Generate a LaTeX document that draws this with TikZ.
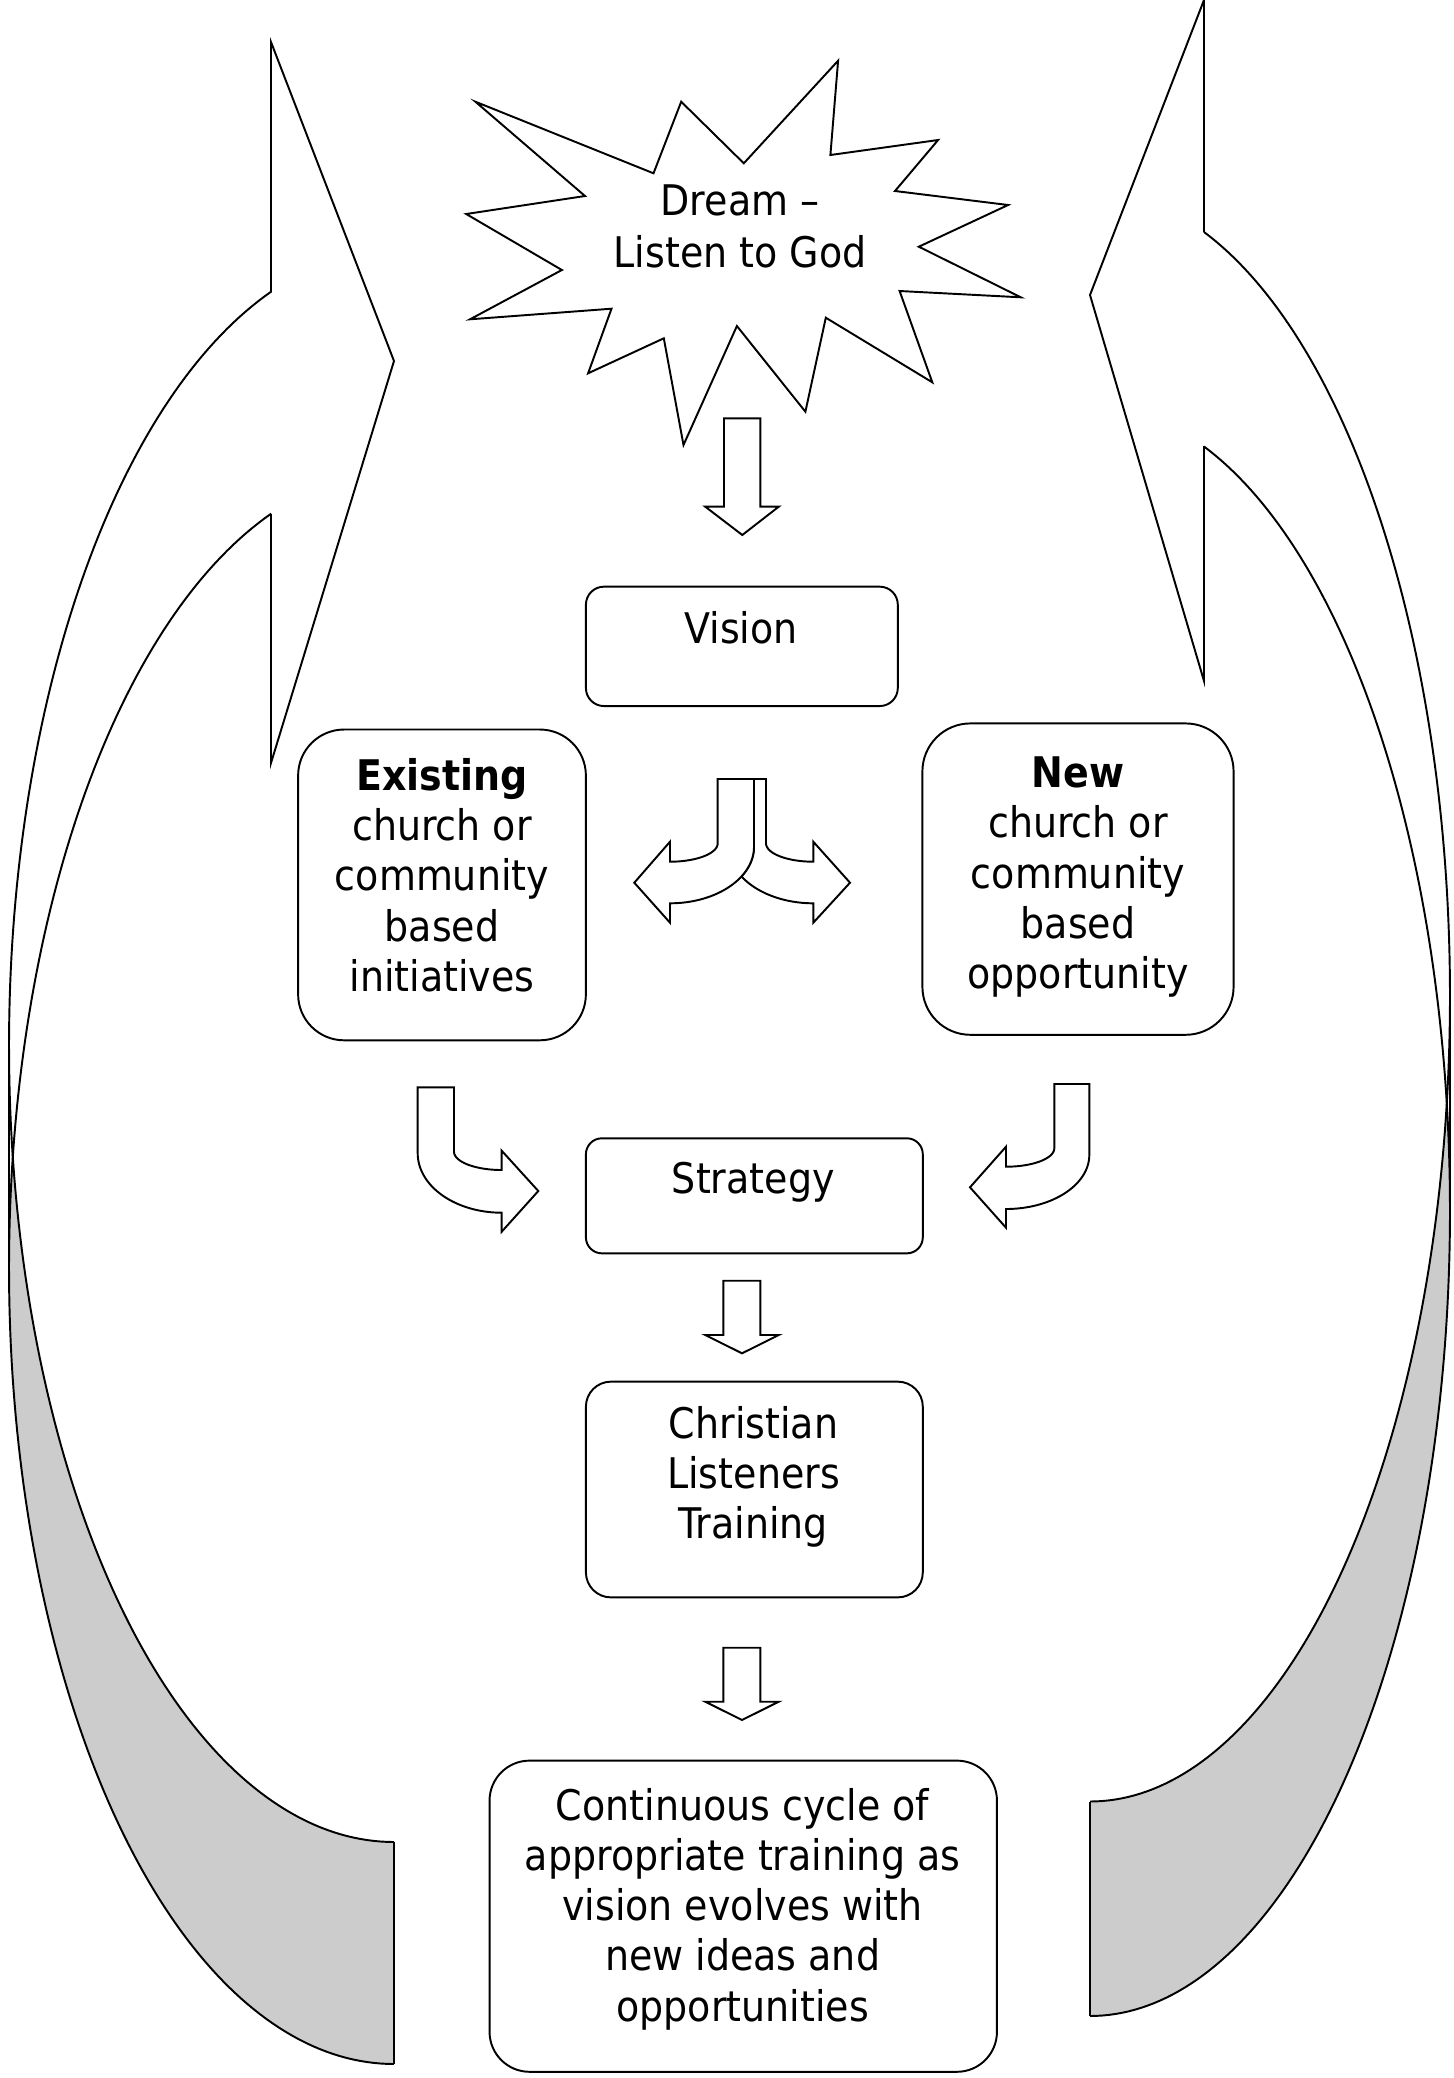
\documentclass[tikz,border=0pt]{standalone}
\usepackage{fontspec}
\setmainfont{DejaVu Sans Condensed}
\definecolor{backgray}{HTML}{CCCCCC}
\begin{document}
\begin{tikzpicture}[x=0.01cm,y=-0.01cm,line width=0.55pt,line join=miter,
  box/.style={draw,fill=white,inner sep=0pt},
  txt/.style={font=\fontsize{12pt}{14.3pt}\selectfont,align=center,inner sep=0pt},
  blk/.style={draw,fill=white},
  backband/.style={fill=backgray}]
\fill[white] (0,0) rectangle (1454,2078);
\useasboundingbox (0,0) rectangle (1454,2078);

% ---------- left curved arrow ----------
\path[backband] plot[domain=172:90,samples=80] ({394+385*cos(\x)},{1046+796*sin(\x)})
  -- plot[domain=90:188,samples=80] ({394+385*cos(\x)},{1268+796*sin(\x)}) -- cycle;
\path[fill=white] plot[domain=180:251.4,samples=80] ({394+385*cos(\x)},{1046+796*sin(\x)})
  -- (271,42) -- (394,361) -- (271,763)
  -- plot[domain=251.4:180,samples=80] ({394+385*cos(\x)},{1268+796*sin(\x)}) -- cycle;
\draw plot[domain=251.4:90,samples=160] ({394+385*cos(\x)},{1046+796*sin(\x)});
\draw plot[domain=251.4:90,samples=160] ({394+385*cos(\x)},{1268+796*sin(\x)});
\draw (271,292) -- (271,42) -- (394,361) -- (271,763) -- (271,514);
\draw (394,1842) -- (394,2064);
\draw (9,1046) -- (9,1268);

% ---------- right curved arrow ----------
\path[backband] plot[domain=7.65:90,samples=80] ({1090+360*cos(\x)},{996+805.5*sin(\x)})
  -- plot[domain=90:-7.65,samples=80] ({1090+360*cos(\x)},{1210.5+805.5*sin(\x)}) -- cycle;
\path[fill=white] plot[domain=0:-71.54,samples=80] ({1090+360*cos(\x)},{996+805.5*sin(\x)})
  -- (1204,0) -- (1090,295) -- (1204,681)
  -- plot[domain=-71.54:0,samples=80] ({1090+360*cos(\x)},{1210.5+805.5*sin(\x)}) -- cycle;
\draw plot[domain=-71.54:90,samples=160] ({1090+360*cos(\x)},{996+805.5*sin(\x)});
\draw plot[domain=-71.54:90,samples=160] ({1090+360*cos(\x)},{1210.5+805.5*sin(\x)});
\draw (1204,232) -- (1204,0) -- (1090,295) -- (1204,681) -- (1204,446);
\draw (1090,1801.5) -- (1090,2016);
\draw (1450,996) -- (1450,1210.5);

% ---------- starburst ----------
\draw[fill=white] (475.4,101.7) -- (653.5,173.3) -- (681.2,101.7) -- (743.8,163.3)
  -- (838.1,60.7) -- (830.4,155) -- (938.1,140) -- (895,191) -- (1008.1,205)
  -- (918.8,246.7) -- (1020.8,297.3) -- (899.6,291) -- (932.3,382.3)
  -- (825.8,317.7) -- (805.4,411.7) -- (736.9,326) -- (683.5,445)
  -- (663.8,338.3) -- (588.1,373.3) -- (611.5,308.7) -- (470,319.3)
  -- (561.9,270) -- (466.2,214) -- (585,196) -- cycle;
\node[txt,font=\fontsize{12pt}{15pt}\selectfont] (dream) at (740,226.5) {Dream –\\Listen to God};

% ---------- boxes ----------
\node[box,rounded corners=0.18cm,minimum width=3.117cm,minimum height=1.193cm] (vision) at (741.85,646.35) {};
\node[txt,anchor=base] (visiontxt) at (741,643.3) {Vision};

\node[box,rounded corners=0.46cm,minimum width=2.876cm,minimum height=3.106cm] (exist) at (442,884.9) {};
\node[txt] (existtxt) at (442,875) {\textbf{Existing}\\church or\\community\\based\\initiatives};

\node[box,rounded corners=0.48cm,minimum width=3.11cm,minimum height=3.112cm] (new) at (1078,879.1) {};
\node[txt] (newtxt) at (1078,877) {\textbf{New}\\church or\\community\\based\\opportunity};

\node[box,rounded corners=0.16cm,minimum width=3.367cm,minimum height=1.15cm] (strategy) at (754.35,1195.8) {};
\node[txt,anchor=base] (strategytxt) at (753.3,1193.3) {Strategy};

\node[box,rounded corners=0.25cm,minimum width=3.367cm,minimum height=2.156cm] (clt) at (754.35,1489.5) {};
\node[txt] (clttxt) at (753.5,1477) {Christian\\Listeners\\Training};

\node[box,rounded corners=0.40cm,minimum width=5.071cm,minimum height=3.11cm] (cycle) at (743.25,1916.2) {};
\node[txt] (cycletxt) at (742.6,1909) {Continuous cycle of\\appropriate training as\\vision evolves with\\new ideas and\\opportunities};

% ---------- down block arrows ----------
\draw[blk] (724,418.3) -- (760.3,418.3) -- (760.3,506.7) -- (778.7,506.7) -- (742.3,535) -- (705.3,506.7) -- (724,506.7) -- cycle;
\draw[blk] (723.3,1280.7) -- (760.3,1280.7) -- (760.3,1335) -- (778.7,1335) -- (742,1353.3) -- (705.3,1335) -- (723.3,1335) -- cycle;
\draw[blk] (723.3,1647.7) -- (760.3,1647.7) -- (760.3,1701.7) -- (778.7,1701.7) -- (742,1720) -- (705.3,1701.7) -- (723.3,1701.7) -- cycle;

% ---------- fork arrow ----------
\draw[blk] (754,779) -- (766,779) -- (766,843.3)
  -- plot[domain=180:90,samples=30] ({813.3+47.3*cos(\x)},{843.3+18.4*sin(\x)})
  -- (813.3,841.7) -- (850,882.7) -- (813.3,922.7) -- (813.3,903.3)
  -- plot[domain=90:148,samples=30] ({813.3+84.4*cos(\x)},{846.7+56.6*sin(\x)})
  -- plot[domain=31.4:0,samples=20] ({670+84*cos(\x)},{846.7+56.6*sin(\x)}) -- cycle;
\draw[blk] (717.7,779) -- (754,779)
  -- plot[domain=0:90,samples=40] ({670+84*cos(\x)},{846.7+56.6*sin(\x)})
  -- (670,922.7) -- (634.3,882.7) -- (670,841.7)
  -- plot[domain=90:0,samples=30] ({670+47.7*cos(\x)},{843.3+18.4*sin(\x)}) -- cycle;

% ---------- bent arrows ----------
\draw[blk] (417.7,1087.3) -- (454,1087.3)
  -- plot[domain=180:90,samples=30] ({501.7+47.7*cos(\x)},{1151.7+18.3*sin(\x)})
  -- (501.7,1150.7) -- (538.3,1191) -- (501.7,1231.7) -- (501.7,1212.7)
  -- plot[domain=90:180,samples=40] ({501.7+84*cos(\x)},{1153.3+59.4*sin(\x)}) -- cycle;
\draw[blk] (1089.3,1084) -- (1054.3,1084)
  -- plot[domain=0:90,samples=30] ({1006+48.3*cos(\x)},{1148.3+18.4*sin(\x)})
  -- (1006,1146.7) -- (970,1187.3) -- (1006,1227.7) -- (1006,1209)
  -- plot[domain=90:0,samples=40] ({1006+83.3*cos(\x)},{1155+54*sin(\x)}) -- cycle;
\end{tikzpicture}
\end{document}
